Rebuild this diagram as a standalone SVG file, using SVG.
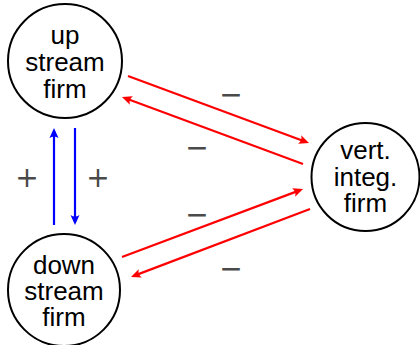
<svg xmlns="http://www.w3.org/2000/svg" width="420" height="345" viewBox="0 0 420 345">
  <style>
    .node circle { fill: #fff; stroke: #000; stroke-width: 2; }
    .node text { font-family: "Liberation Sans", Arial, sans-serif; font-size: 26px; fill: #000; text-anchor: middle; }
    .red { stroke: #f00; stroke-width: 2.2; fill: none; marker-end: url(#headRed); }
    .blue { stroke: #00f; stroke-width: 2.2; fill: none; marker-end: url(#headBlue); }
    .sign { font-family: "DejaVu Sans", sans-serif; font-size: 28px; fill: #4a4a4a; text-anchor: middle; }
  </style>
  <defs>
    <marker id="headRed" markerUnits="userSpaceOnUse" viewBox="-10 -6 14 12" refX="0" refY="0" markerWidth="14" markerHeight="12" orient="auto">
      <path d="M3,0 L-7,-4.5 Q-4,0 -7,4.5 Z" fill="#f00"/>
    </marker>
    <marker id="headBlue" markerUnits="userSpaceOnUse" viewBox="-10 -6 14 12" refX="0" refY="0" markerWidth="14" markerHeight="12" orient="auto">
      <path d="M3,0 L-7,-4.5 Q-4,0 -7,4.5 Z" fill="#00f"/>
    </marker>
  </defs>

  <g id="connectors">
    <line class="blue" x1="54" y1="225" x2="54" y2="131"/>
    <line class="blue" x1="75" y1="128" x2="75" y2="222"/>
    <line class="red" x1="128" y1="76" x2="306.2" y2="142"/>
    <line class="red" x1="303" y1="164" x2="124.8" y2="98"/>
    <line class="red" x1="122" y1="257" x2="300.2" y2="190.1"/>
    <line class="red" x1="310" y1="209" x2="133.8" y2="275.9"/>
    <text class="sign" x="27" y="187">+</text>
    <text class="sign" x="98" y="187">+</text>
    <text class="sign" x="231" y="104">−</text>
    <text class="sign" x="197" y="157">−</text>
    <text class="sign" x="197" y="224">−</text>
    <text class="sign" x="231" y="278">−</text>
  </g>

  <g id="upstream" class="node">
    <circle cx="65" cy="61" r="57"/>
    <text x="65" y="44">up</text>
    <text x="65" y="71">stream</text>
    <text x="65" y="98">firm</text>
  </g>

  <g id="downstream" class="node">
    <circle cx="64" cy="290" r="56"/>
    <text x="64" y="274">down</text>
    <text x="64" y="300">stream</text>
    <text x="64" y="326">firm</text>
  </g>

  <g id="vertical" class="node">
    <circle cx="365.5" cy="177" r="54"/>
    <text x="365.5" y="159">vert.</text>
    <text x="365.5" y="186">integ.</text>
    <text x="365.5" y="212">firm</text>
  </g>
</svg>
